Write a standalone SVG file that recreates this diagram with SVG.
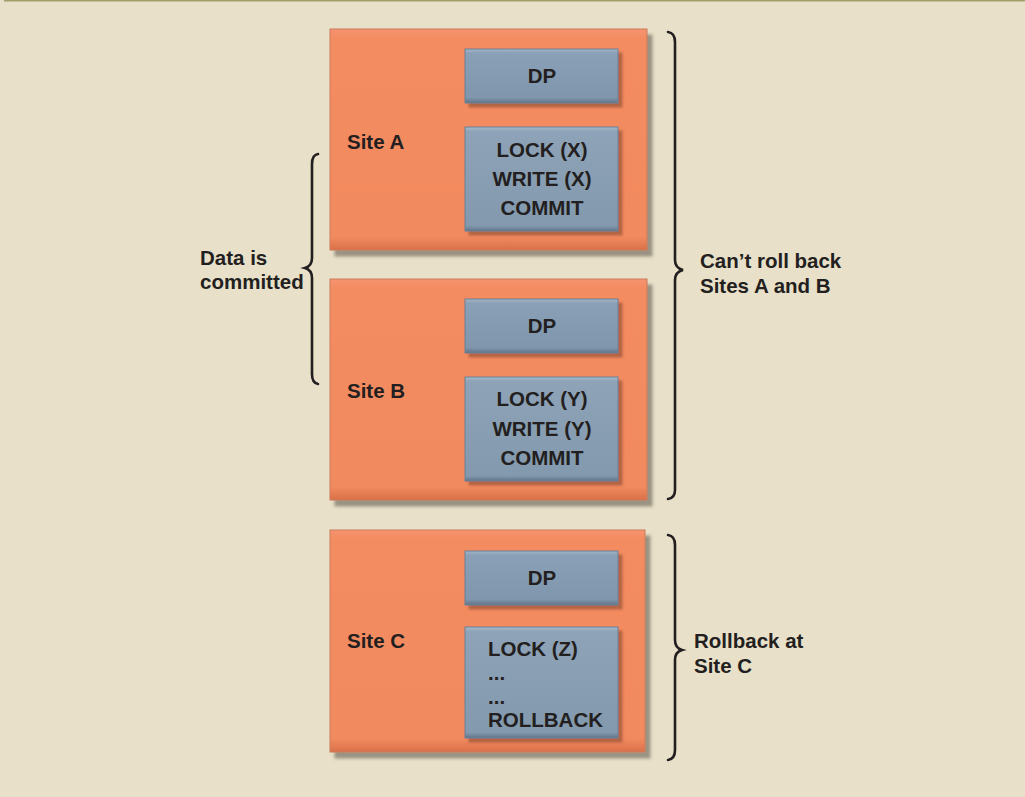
<svg xmlns="http://www.w3.org/2000/svg" width="1025" height="797" viewBox="0 0 1025 797">
<defs>
<linearGradient id="og" x1="0" y1="0" x2="0" y2="1">
<stop offset="0" stop-color="#f69470"/>
<stop offset="0.04" stop-color="#f48c62"/>
<stop offset="0.94" stop-color="#f28a5e"/>
<stop offset="1" stop-color="#d9704a"/>
</linearGradient>
<linearGradient id="bg" x1="0" y1="0" x2="0" y2="1">
<stop offset="0" stop-color="#a3b6c8"/>
<stop offset="0.08" stop-color="#8aa0b6"/>
<stop offset="0.9" stop-color="#7f96ac"/>
<stop offset="1" stop-color="#5f7489"/>
</linearGradient>
<linearGradient id="bg2" x1="0" y1="0" x2="0" y2="1">
<stop offset="0" stop-color="#a8bccc"/>
<stop offset="0.04" stop-color="#8ea3b7"/>
<stop offset="0.95" stop-color="#8399ae"/>
<stop offset="1" stop-color="#607589"/>
</linearGradient>
<filter id="sh" x="-10%" y="-10%" width="130%" height="130%">
<feGaussianBlur in="SourceAlpha" stdDeviation="1.5"/>
<feOffset dx="5" dy="6" result="b"/>
<feFlood flood-color="#5a5448" flood-opacity="0.55"/>
<feComposite in2="b" operator="in"/>
<feMerge><feMergeNode/><feMergeNode in="SourceGraphic"/></feMerge>
</filter>
<filter id="sh2" x="-10%" y="-10%" width="130%" height="130%">
<feGaussianBlur in="SourceAlpha" stdDeviation="1.2"/>
<feOffset dx="4" dy="4" result="b"/>
<feFlood flood-color="#8a4a30" flood-opacity="0.6"/>
<feComposite in2="b" operator="in"/>
<feMerge><feMergeNode/><feMergeNode in="SourceGraphic"/></feMerge>
</filter>
</defs>
<style>
.site{fill:url(#og);stroke:#c97a5a;stroke-width:1;filter:url(#sh)}
.dp{fill:url(#bg);stroke:#6c8095;stroke-width:1;filter:url(#sh2)}
.op{fill:url(#bg2);stroke:#6c8095;stroke-width:1;filter:url(#sh2)}
text{font-family:"Liberation Sans",Arial,sans-serif;font-weight:bold;font-size:20.5px;fill:#231f20}
.c{text-anchor:middle}
.brace{fill:none;stroke:#231f20;stroke-width:2.6;stroke-linecap:round}
</style>
<rect x="0" y="0" width="1025" height="797" fill="#e8e0c8"/>
<rect x="4" y="0" width="1021" height="1.5" fill="#a39d6c"/>

<g id="siteA">
<rect class="site" x="330" y="29" width="317" height="221"/>
<text x="347" y="149">Site A</text>
<rect class="dp" x="465" y="49" width="153" height="54"/>
<text class="c" x="542" y="83">DP</text>
<rect class="op" x="465" y="127" width="153" height="104"/>
<text class="c" x="542" y="157">LOCK (X)</text>
<text class="c" x="542" y="186">WRITE (X)</text>
<text class="c" x="542" y="215">COMMIT</text>
</g>

<g id="siteB">
<rect class="site" x="330" y="279" width="317" height="221"/>
<text x="347" y="398">Site B</text>
<rect class="dp" x="465" y="299" width="153" height="54"/>
<text class="c" x="542" y="333">DP</text>
<rect class="op" x="465" y="377" width="153" height="104"/>
<text class="c" x="542" y="406">LOCK (Y)</text>
<text class="c" x="542" y="436">WRITE (Y)</text>
<text class="c" x="542" y="465">COMMIT</text>
</g>

<g id="siteC">
<rect class="site" x="330" y="530" width="315" height="222"/>
<text x="347" y="648">Site C</text>
<rect class="dp" x="465" y="551" width="153" height="54"/>
<text class="c" x="542" y="585">DP</text>
<rect class="op" x="465" y="627" width="153" height="111"/>
<text x="488" y="656">LOCK (Z)</text>
<text x="488" y="680">...</text>
<text x="488" y="704">...</text>
<text x="488" y="727">ROLLBACK</text>
</g>

<g id="connectors">
<path class="brace" d="M318,154 Q312,155 312,164 L312,258 Q312,266 305,268 Q312,270 312,278 L312,374 Q312,383 318,384"/>
<path class="brace" d="M668,32 Q675,33 675,42 L675,260 Q675,268 683,270 Q675,272 675,280 L675,490 Q675,498 668,499"/>
<path class="brace" d="M668,535 Q675,536 675,545 L675,640 Q675,648 682,650 Q675,652 675,660 L675,750 Q675,759 668,760"/>
</g>

<g id="labels">
<text x="200" y="265">Data is</text>
<text x="200" y="289">committed</text>
<text x="700" y="268">Can’t roll back</text>
<text x="700" y="293">Sites A and B</text>
<text x="694" y="648">Rollback at</text>
<text x="694" y="673">Site C</text>
</g>
</svg>
